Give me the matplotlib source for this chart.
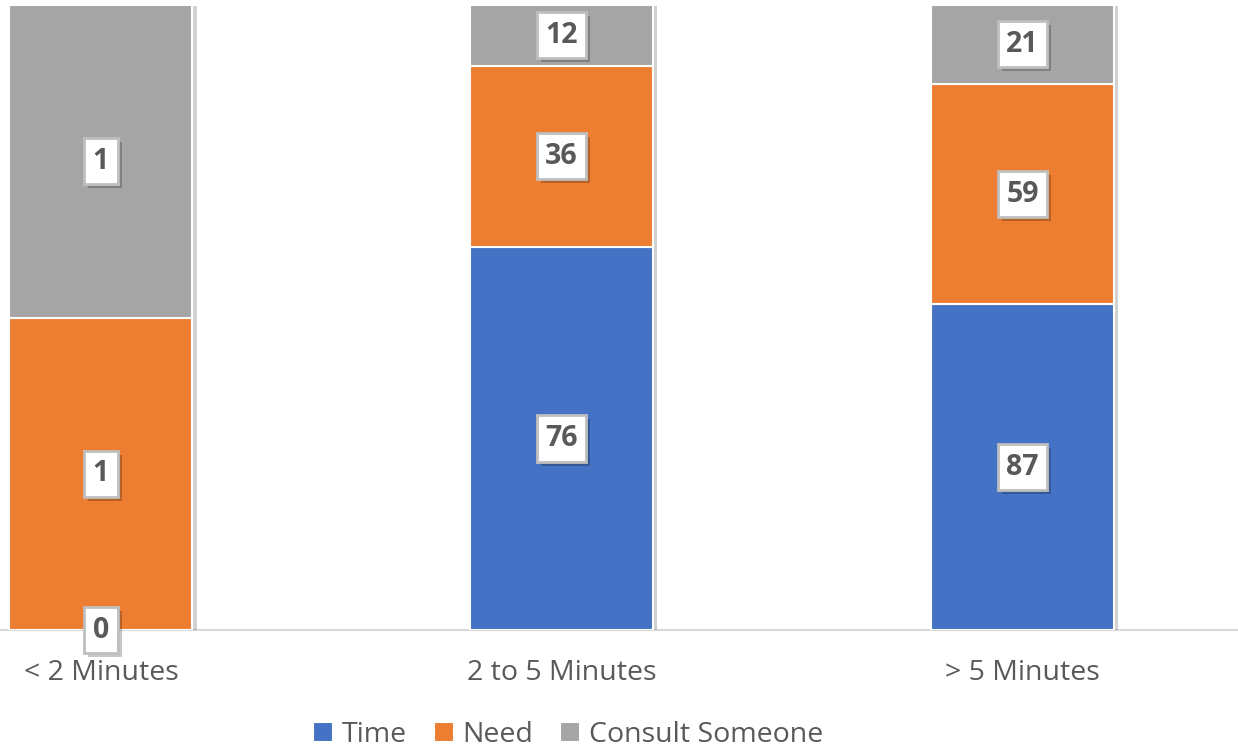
import matplotlib
matplotlib.use("Agg")
import matplotlib.pyplot as plt
import matplotlib.patheffects as pe
from matplotlib.patches import Rectangle
from matplotlib.transforms import IdentityTransform
import numpy as np

categories = ["< 2 Minutes", "2 to 5 Minutes", "> 5 Minutes"]
series_names = ["Time", "Need", "Consult Someone"]
time_vals = [0, 76, 87]
need_vals = [1, 36, 59]
consult_vals = [1, 12, 21]
colors = ["#4472C4", "#ED7D31", "#A5A5A5"]
text_color = "#595959"

plt.rcParams["font.family"] = ["Open Sans", "DejaVu Sans"]

fig = plt.figure(figsize=(12.38, 7.5), dpi=100)
ax = fig.add_axes([0.0, 0.16, 1.0, 0.8333])

series = np.array([time_vals, need_vals, consult_vals], dtype=float)
totals = series.sum(axis=0)
shares = series / totals

x = np.arange(len(categories))
width = 0.397

# soft drop shadow behind each full column
ax.bar(x, np.ones(len(categories)), width=width, color="white", linewidth=0,
       zorder=1,
       path_effects=[pe.SimplePatchShadow(offset=(3, -1), shadow_rgbFace="#000000", alpha=0.18),
                     pe.Normal()])

bottoms = np.zeros(len(categories))
handles = []
labels = []
for i, name in enumerate(series_names):
    h = ax.bar(x, shares[i], width=width, bottom=bottoms, color=colors[i],
               edgecolor="white", linewidth=1.5, zorder=2, label=name)
    handles.append(h)
    for j in range(len(categories)):
        yc = bottoms[j] + shares[i][j] / 2
        t = ax.text(x[j], yc, f"{int(series[i][j])}", ha="center", va="center",
                    fontsize=20.5, fontweight="bold", color=text_color, zorder=6,
                    bbox=dict(boxstyle="square,pad=0.3", fc="white", ec="#BFBFBF", lw=2))
        labels.append(t)
    bottoms = bottoms + shares[i]

ax.set_xlim(-0.219, 2.468)
ax.set_ylim(0, 1.0)

for s in ["top", "right", "left"]:
    ax.spines[s].set_visible(False)
ax.spines["bottom"].set_color("#D9D9D9")
ax.spines["bottom"].set_linewidth(1.5)
ax.spines["bottom"].set_zorder(0.5)
ax.set_yticks([])
ax.set_xticks(x)
ax.set_xticklabels(categories, fontsize=20.5, color=text_color)
ax.tick_params(axis="x", length=0, pad=21)

fig.legend(handles=handles, labels=series_names, loc="center",
           bbox_to_anchor=(0.459, 1 - 735 / 750), ncol=3, frameon=False,
           fontsize=20.5, labelcolor=text_color, handlelength=0.7, handleheight=0.7,
           handletextpad=0.3, columnspacing=0.95)

# drop shadows under the value boxes
fig.canvas.draw()
renderer = fig.canvas.get_renderer()
for t in labels:
    bb = t.get_bbox_patch().get_window_extent(renderer)
    ax.add_artist(Rectangle((bb.x0 + 4, bb.y0 - 4), bb.width, bb.height,
                            transform=IdentityTransform(), facecolor=(0, 0, 0, 0.22),
                            edgecolor="none", zorder=5, clip_on=False))

fig.savefig("out.png", dpi=100)
